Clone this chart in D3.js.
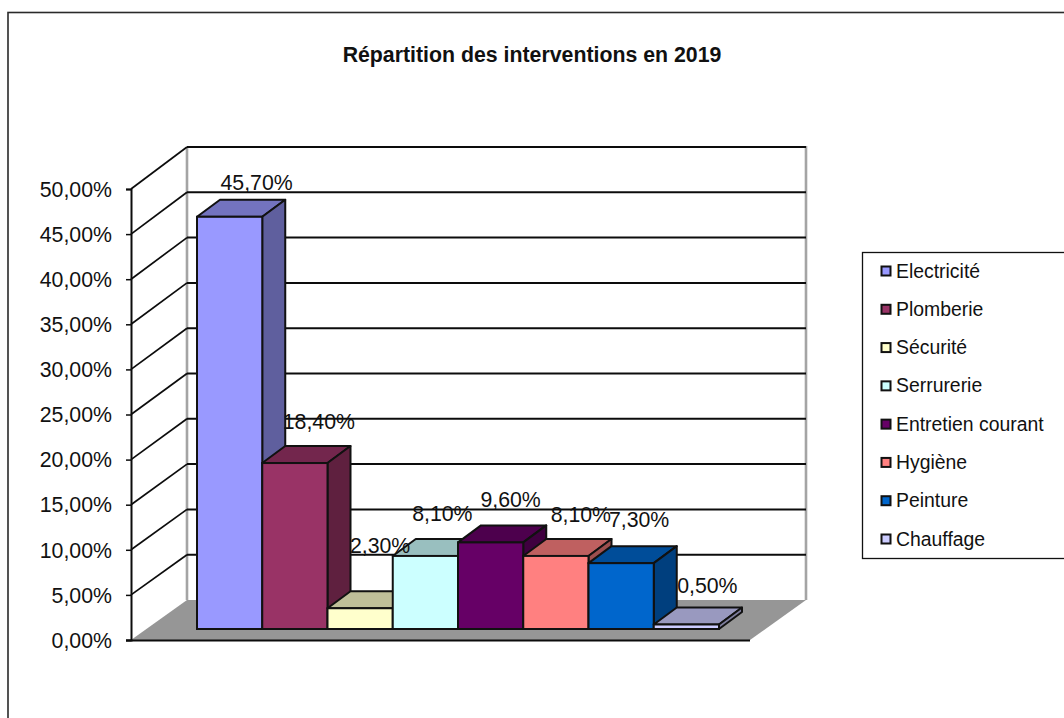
<!DOCTYPE html>
<html><head><meta charset="utf-8">
<script src="https://cdn.jsdelivr.net/npm/d3@7/dist/d3.min.js"></script>
<style>html,body{margin:0;padding:0;background:#fff;overflow:hidden}svg{display:block}text{font-family:"Liberation Sans",Arial,sans-serif;fill:#111}</style>
</head><body><svg id="c" width="1064" height="718"></svg>
<script>
// Intervention shares for 2019, in percent
const categories = ["Electricité","Plomberie","Sécurité","Serrurerie","Entretien courant","Hygiène","Peinture","Chauffage"];
const values = [45.7,18.4,2.3,8.1,9.6,8.1,7.3,0.5];
const valueLabels = ["45,70%","18,40%","2,30%","8,10%","9,60%","8,10%","7,30%","0,50%"];
const fills = ["#9999ff","#993366","#ffffcc","#ccffff","#660066","#ff8080","#0066cc","#ccccff"];
const tickValues = [0,5,10,15,20,25,30,35,40,45,50];
const title = "Répartition des interventions en 2019";

// Manual label placement: lift above each bar's rear top edge, sideways shift
const labelLift = [17,25,46,25,26,24,27,22];
const labelShift = [27,24,20,17,20,25,18,21];

const svg = d3.select("#c");
const ink = "#0c0c0c";
const fmtTick = v => d3.format(".2f")(v).replace(".", ",") + "%";
const scaled = (c,k) => { const r = d3.rgb(c); return d3.rgb(r.r*k, r.g*k, r.b*k).formatHex(); };

// Front plane, back wall and bar scales
const y = d3.scaleLinear().domain([0,50]).range([640,189]);
const yBack = d3.scaleLinear().domain([0,50]).range([600,147]);
const barBase = 629;
const barY = d3.scaleLinear().domain([0,50]).range([barBase, barBase - (y(0)-y(50))]);
const x = d3.scaleBand().domain(categories).range([197,719]).padding(0);
const box = {left:131, right:750, backLeft:187, backRight:806};
const bar = {dx:23, dy:-17};

const poly = (pts, fill, stroke, sw) => svg.append("polygon")
  .attr("points", pts.map(p => p.join(",")).join(" "))
  .attr("fill", fill).attr("stroke", stroke||"none").attr("stroke-width", sw||0).attr("stroke-linejoin","round");
const line = (x1,y1,x2,y2,stroke,sw) => svg.append("line")
  .attr("x1",x1).attr("y1",y1).attr("x2",x2).attr("y2",y2).attr("stroke",stroke).attr("stroke-width",sw);

// Outer frame, running off the right and bottom of the page
svg.append("rect").attr("x",8).attr("y",12.5).attr("width",1100).attr("height",760)
  .attr("fill","#fff").attr("stroke","#2a2a2a").attr("stroke-width",1.6);

// Title
svg.append("text").attr("x",532).attr("y",62).attr("text-anchor","middle")
  .attr("font-weight","bold").attr("font-size",21.3).text(title);

// Walls and floor
poly([[box.left,y(0)],[box.backLeft,yBack(0)],[box.backRight,yBack(0)],[box.right,y(0)]], "#969696");
line(box.backLeft,yBack(50),box.backLeft,yBack(0),"#a4a4a4",2.6);
line(box.backRight,yBack(50)-1,box.backRight,yBack(0),"#a4a4a4",2.6);

// Gridlines across the side wall and back wall
tickValues.filter(t => t > 0).forEach(t => {
  line(box.left,y(t),box.backLeft,yBack(t),ink,1.7);
  line(box.backLeft,yBack(t),box.backRight,yBack(t),ink,2);
});

// Front axes
const axis = svg.append("g").attr("transform",`translate(${box.left},0)`)
  .call(d3.axisLeft(y).tickValues(tickValues).tickFormat(fmtTick).tickSize(5).tickPadding(14));
axis.select(".domain").attr("stroke",ink).attr("stroke-width",2);
axis.selectAll(".tick line").attr("stroke",ink).attr("stroke-width",1.5);
axis.selectAll("text").attr("font-size",21.3).attr("dy","0.34em")
  .style("font-family",'"Liberation Sans",Arial,sans-serif').style("fill","#111");
line(box.left-5,y(0)+0.5,box.right,y(0)+0.5,ink,2.2);

// Bars, painted left to right so each front face covers its neighbour's side
categories.forEach((c,i) => {
  const x0 = x(c), x1 = x0 + x.bandwidth(), top = barY(values[i]);
  const sw = 2;
  poly([[x0,top],[x0+bar.dx,top+bar.dy],[x1+bar.dx,top+bar.dy],[x1,top]], scaled(fills[i],0.75), "#111", sw);
  poly([[x1,top],[x1+bar.dx,top+bar.dy],[x1+bar.dx,barBase+bar.dy],[x1,barBase]], scaled(fills[i],0.62), "#111", sw);
  svg.append("rect").attr("x",x0).attr("y",top).attr("width",x.bandwidth()).attr("height",barBase-top)
    .attr("fill",fills[i]).attr("stroke","#111").attr("stroke-width",sw);
});

// Value labels
categories.forEach((c,i) => {
  svg.append("text").attr("x",x(c)+x.bandwidth()/2+labelShift[i])
    .attr("y",barY(values[i])+bar.dy-labelLift[i]+7.5)
    .attr("text-anchor","middle").attr("font-size",21.3).text(valueLabels[i]);
});

// Legend, its box also running past the right edge
svg.append("rect").attr("x",862.5).attr("y",252.5).attr("width",260).attr("height",306)
  .attr("fill","#fff").attr("stroke","#111").attr("stroke-width",1.3);
const legendY = d3.scalePoint().domain(categories).range([271,539]);
categories.forEach((c,i) => {
  svg.append("rect").attr("x",881.5).attr("y",legendY(c)-4.5).attr("width",9).attr("height",9)
    .attr("fill",fills[i]).attr("stroke","#111").attr("stroke-width",2);
  svg.append("text").attr("x",896).attr("y",legendY(c)+6.5).attr("font-size",19.4).text(c);
});
</script></body></html>
